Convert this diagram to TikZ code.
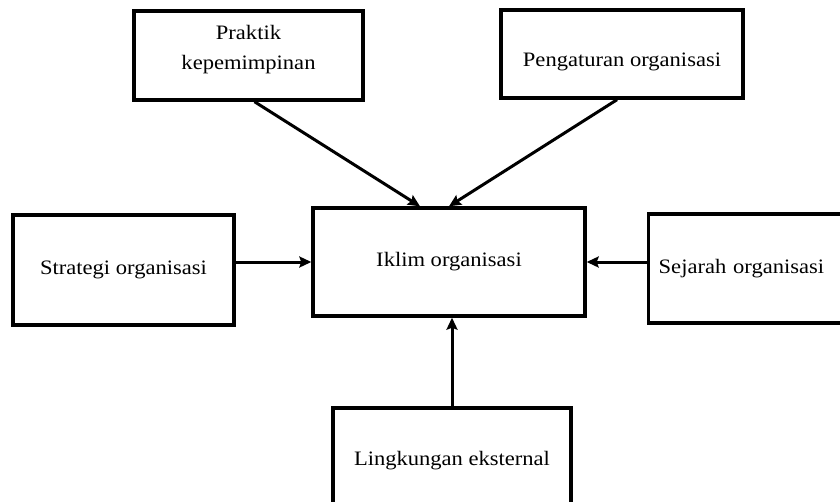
\documentclass[tikz,border=0pt]{standalone}
\usepackage{fontspec}
\setmainfont{Liberation Serif}[FakeStretch=1.1]
\usepackage{tikz}
\usetikzlibrary{arrows.meta,positioning}

\begin{document}
\begin{tikzpicture}[>={Stealth[length=12pt,width=11pt,inset=2pt]}, x=1pt, y=-1pt,
    box/.style={draw, line width=3.4pt, align=center, inner sep=0pt,
      font=\fontsize{20.5}{30}\selectfont},
    arr/.style={->, line width=3pt}]
  \clip (0,0) rectangle (840,501);
  \node[box, minimum width=229pt, minimum height=89pt, text depth=17pt] (praktik) at (248.5,55.5) {Praktik\\kepemimpinan};
  \node[box, minimum width=242pt, minimum height=88pt, text height=30pt] (pengaturan) at (622,54) {Pengaturan organisasi};
  \node[box, minimum width=272pt, minimum height=108pt] (iklim) at (449,262) {Iklim organisasi};
  \node[box, minimum width=221pt, minimum height=110pt] (strategi) at (123.5,270) {Strategi organisasi};
  \node[box, anchor=west, align=left, text width=193pt, inner xsep=10pt, minimum height=109pt] (sejarah) at (647,268.5) {Sejarah organisasi};
  \node[box, minimum width=238pt, minimum height=106pt] (lingkungan) at (452,461) {Lingkungan eksternal};
  \draw[arr] ([xshift=6pt]praktik.south) -- ([xshift=-29pt]iklim.north);
  \draw[arr] ([xshift=-5pt]pengaturan.south) -- (iklim.north);
  \draw[arr] (strategi.east |- iklim.west) -- (iklim.west);
  \draw[arr] (sejarah.west |- iklim.east) -- (iklim.east);
  \draw[arr] (lingkungan.north) -- (lingkungan.north |- iklim.south);
\end{tikzpicture}
\end{document}
